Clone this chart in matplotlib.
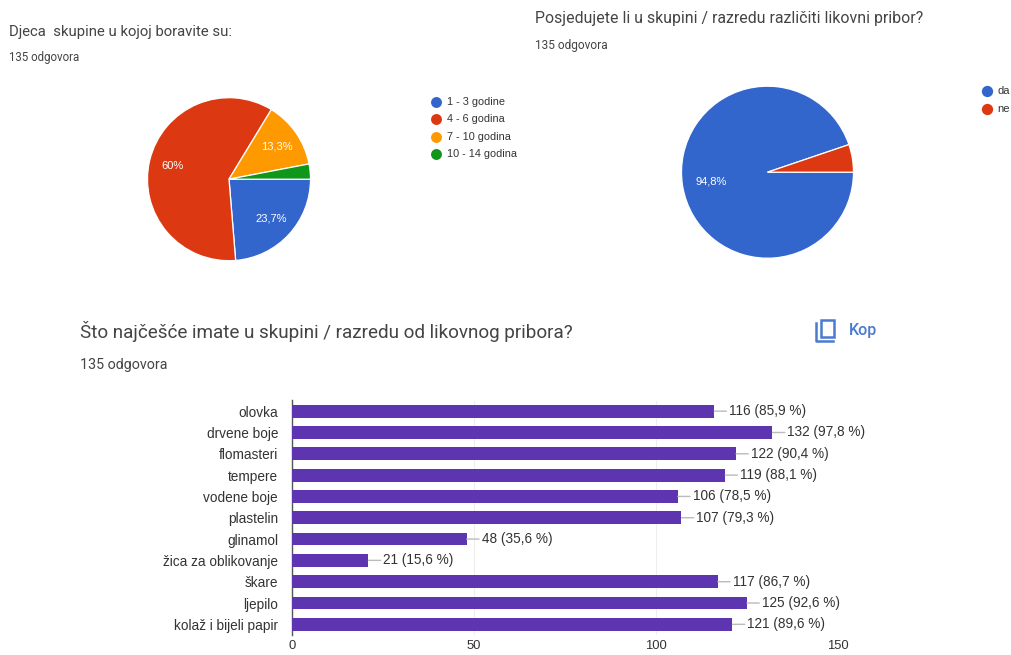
import matplotlib as mpl
mpl.use('Agg')
import matplotlib.pyplot as plt
from matplotlib.patches import Rectangle

W = 1011
H = 655

# podaci
pie1_labels = ["1 - 3 godine", "4 - 6 godina", "7 - 10 godina", "10 - 14 godina"]
pie1_values = [23.7, 60, 13.3, 3.0]
pie1_texts = ["23,7%", "60%", "13,3%", ""]
pie1_colors = ["#3366cc", "#dc3912", "#ff9900", "#109618"]

pie2_labels = ["da", "ne"]
pie2_values = [94.8, 5.2]
pie2_texts = ["94,8%", ""]
pie2_colors = ["#3366cc", "#dc3912"]

bar_labels = ["olovka", "drvene boje", "flomasteri", "tempere", "vodene boje", "plastelin",
              "glinamol", "žica za oblikovanje", "škare", "ljepilo", "kolaž i bijeli papir"]
bar_values = [116, 132, 122, 119, 106, 107, 48, 21, 117, 125, 121]
bar_percent = ["85,9", "97,8", "90,4", "88,1", "78,5", "79,3", "35,6", "15,6", "86,7", "92,6", "89,6"]
bar_ticks = [0, 50, 100, 150]

TITLE = "#444444"
GREY = "#333333"
BLUE = "#4a7bd0"


# osi zadane u pikselima slike
def pixel_axes(x0, y0, x1, y1):
    return fig.add_axes([x0 / W, 1 - y1 / H, (x1 - x0) / W, (y1 - y0) / H])


def draw_pie(cx, cy, r, values, colors, texts, pct):
    ax = pixel_axes(cx - r - 1, cy - r - 1, cx + r + 1, cy + r + 1)
    w, t, at = ax.pie(values, colors=colors, startangle=0, counterclock=False,
                      autopct='%.1f', pctdistance=pct, radius=r,
                      wedgeprops={'edgecolor': 'white', 'linewidth': 0.9})
    for a, s in zip(at, texts):
        a.set_text(s)
        a.set_color('white')
        a.set_fontsize(8)
        a.set_family('Liberation Sans')
    ax.set_xlim(-r - 1, r + 1)
    ax.set_ylim(-r - 1, r + 1)


fig = plt.figure(figsize=(W / 100, H / 100), dpi=100)

# fond et textes libres
bg = fig.add_axes([0, 0, 1, 1])
bg.set_xlim(0, W)
bg.set_ylim(H, 0)
bg.axis('off')

bg.text(9, 32, "Djeca  skupine u kojoj boravite su:", fontsize=10.7, family='Roboto', color=TITLE, va='center')
bg.text(9, 58, "135 odgovora", fontsize=8.3, family='Roboto', color=TITLE, va='center')
bg.text(535, 18, "Posjedujete li u skupini / razredu različiti likovni pribor?", fontsize=11.4, family='Roboto', color=TITLE, va='center')
bg.text(535, 45, "135 odgovora", fontsize=8.6, family='Roboto', color=TITLE, va='center')
bg.text(80, 332, "Što najčešće imate u skupini / razredu od likovnog pribora?", fontsize=13.6, family='Roboto', color=TITLE, va='center')
bg.text(80, 365, "135 odgovora", fontsize=10.3, family='Roboto', color=TITLE, va='center')

# legende
for i, (lab, col) in enumerate(zip(pie1_labels, pie1_colors)):
    bg.scatter([436], [102 + i * 17.3], s=62, color=col, linewidths=0)
    bg.text(447, 102 + i * 17.3, lab, fontsize=7.8, family='Liberation Sans', color=GREY, va='center')
for i, (lab, col) in enumerate(zip(pie2_labels, pie2_colors)):
    bg.scatter([987], [91 + i * 18], s=66, color=col, linewidths=0)
    bg.text(997, 91 + i * 18, lab, fontsize=8, family='Liberation Sans', color=GREY, va='center')

# ikona kopiranja
bg.add_patch(Rectangle((821, 319.5), 13, 17, fill=False, edgecolor=BLUE, linewidth=1.8))
bg.plot([816, 816, 833], [323, 341, 341], color=BLUE, linewidth=1.8)
kop = bg.text(849, 330.5, "Kopiraj", fontsize=11.5, family='Roboto', fontweight='medium', color=BLUE, va='center')
kop.set_clip_path(Rectangle((840, 315), 36, 30, transform=bg.transData))
kop.set_clip_on(True)

draw_pie(229, 179.2, 81.5, pie1_values, pie1_colors, pie1_texts, 0.71)
draw_pie(767.5, 172.2, 86, pie2_values, pie2_colors, pie2_texts, 0.66)

# stupci
ax = pixel_axes(292, 400.5, 838, 635)
pos = list(range(len(bar_labels)))
ax.barh(pos, bar_values, height=0.6, color="#5e35b1", zorder=3)
ax.set_xlim(0, 150)
ax.set_ylim(len(bar_labels) - 0.5, -0.5)
ax.set_xticks(bar_ticks)
ax.set_yticks(pos)
ax.set_yticklabels(bar_labels)
ax.tick_params(axis='both', length=0, labelsize=9.8, labelcolor=GREY)
ax.tick_params(axis='y', pad=10)
ax.tick_params(axis='x', pad=3.5, labelsize=9.4)
for t in ax.get_xticklabels() + ax.get_yticklabels():
    t.set_family('Liberation Sans')
ax.grid(axis='x', color="#eeeeee", linewidth=0.8, zorder=0)
ax.set_axisbelow(True)
for s in ['top', 'right', 'bottom']:
    ax.spines[s].set_visible(False)
ax.spines['left'].set_color('#555555')
ax.spines['left'].set_linewidth(1)

for i, (v, p) in enumerate(zip(bar_values, bar_percent)):
    ax.annotate(f"{v} ({p} %)", xy=(v, i), xytext=(15, 0), textcoords='offset pixels',
                va='center', ha='left', fontsize=9.8, family='Liberation Sans', color=GREY,
                annotation_clip=False,
                arrowprops=dict(arrowstyle='-', color='#bbbbbb', lw=1, shrinkA=0, shrinkB=0, relpos=(0, 0.5)))

# sauvegarde
plt.savefig('out.png', dpi=100)
